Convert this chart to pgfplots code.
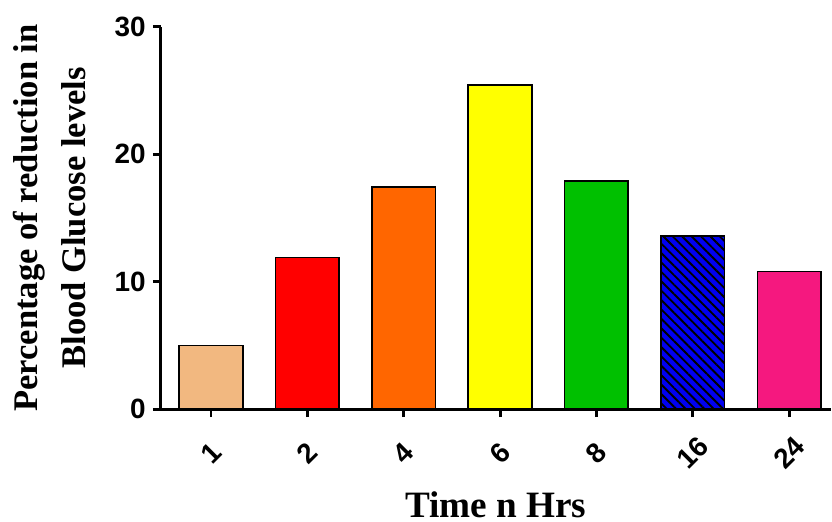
\documentclass[border=0pt]{standalone}
\usepackage{pgfplots}
\pgfplotsset{compat=1.18}
\usepackage{fontspec}
\setmainfont{Liberation Serif}
\newfontfamily\tickfont{Liberation Sans}
\usetikzlibrary{patterns.meta}
\definecolor{c1}{HTML}{F2B880}
\definecolor{c2}{HTML}{FF0000}
\definecolor{c4}{HTML}{FF6600}
\definecolor{c6}{HTML}{FFFF00}
\definecolor{c8}{HTML}{00C000}
\definecolor{c16}{HTML}{0000F0}
\definecolor{c24}{HTML}{F5187F}
\begin{document}
\begin{tikzpicture}
\begin{axis}[
  scale only axis,
  width=504pt, height=288pt,
  ybar, bar width=0.66, bar shift=0pt,
  xmin=-0.52, xmax=6.43,
  ymin=0, ymax=30,
  axis x line*=bottom, axis y line*=left,
  axis line style={line width=2.2pt},
  every tick/.style={line width=2.2pt, black},
  tick align=outside,
  major tick length=6pt,
  xtick={0,1,2,3,4,5,6},
  xticklabels={1,2,4,6,8,16,24},
  ytick={0,10,20,30},
  /pgf/number format/assume math mode=true,
  ticklabel style={font=\tickfont\bfseries\fontsize{21}{24}\selectfont},
  x tick label style={yshift=-27pt, rotate=45, anchor=center},
  y tick label style={xshift=-2pt},
  xlabel={\bfseries Time n Hrs},
  xlabel style={font=\fontsize{28}{30}\selectfont, yshift=-7pt},
  ylabel={\bfseries\begin{tabular}{c}Percentage of reduction in\\Blood Glucose levels\end{tabular}},
  ylabel style={font=\fontsize{26}{36}\selectfont, yshift=4pt},
  clip=false,
]
\addplot[draw=black, line width=1.2pt, fill=c1] coordinates {(0,5.0)};
\addplot[draw=black, line width=1.2pt, fill=c2] coordinates {(1,11.9)};
\addplot[draw=black, line width=1.2pt, fill=c4] coordinates {(2,17.4)};
\addplot[draw=black, line width=1.2pt, fill=c6] coordinates {(3,25.4)};
\addplot[draw=black, line width=1.2pt, fill=c8] coordinates {(4,17.9)};
\addplot[draw=black, line width=1.2pt, fill=c16, postaction={pattern={Lines[angle=-45,distance=5pt,line width=1.4pt]}, pattern color=black}] coordinates {(5,13.6)};
\addplot[draw=black, line width=1.2pt, fill=c24] coordinates {(6,10.8)};
\end{axis}
\path ([yshift=20pt]current axis.north west);
\end{tikzpicture}
\end{document}
